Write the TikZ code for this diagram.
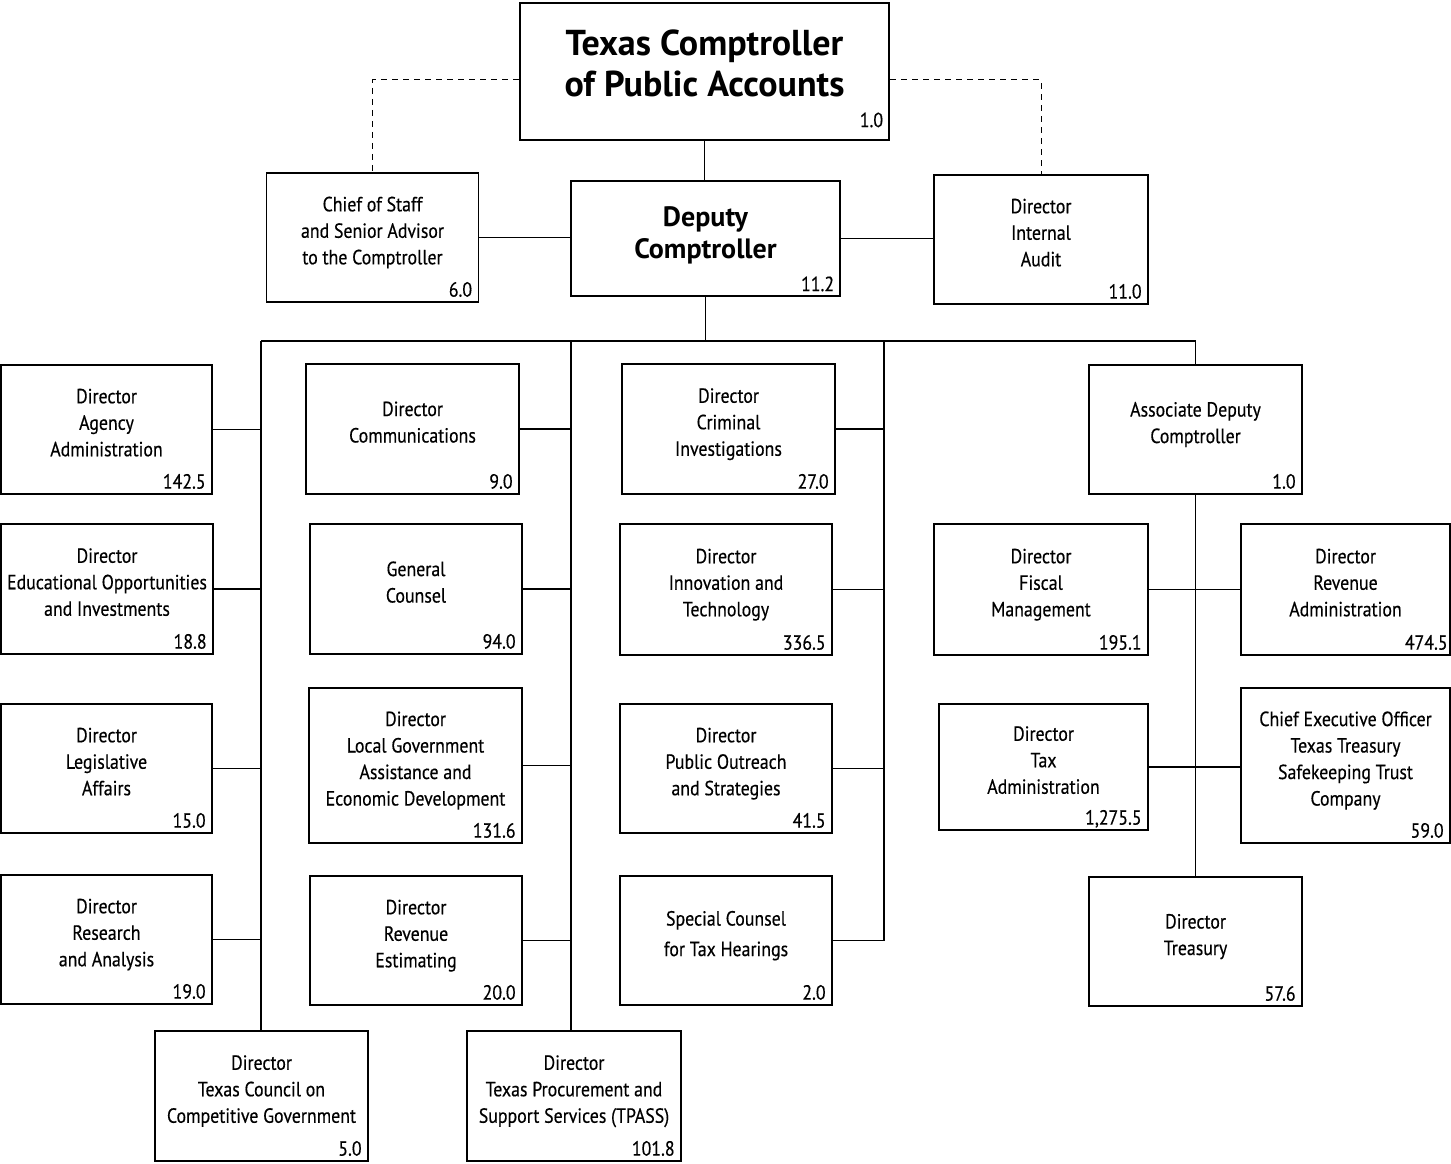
\documentclass[tikz,border=0pt]{standalone}
\usepackage{fontspec}
\setmainfont{PT Sans}[FakeStretch=0.87,FakeBold=0.4]
\newfontfamily\headfont{PT Sans}
\usetikzlibrary{positioning}

\begin{document}
\begin{tikzpicture}[x=1pt,y=-1pt,
  font=\fontsize{20.5}{26.5}\selectfont,
  box/.style={draw, line width=1.6pt, align=center, inner sep=0pt,
    minimum width=212pt, minimum height=129pt, text depth=14pt},
  tall/.style={minimum height=155pt},
  chief/.style={line width=2.6pt},
  num/.style={anchor=south east, inner xsep=7pt, inner ysep=6pt, text depth=0pt},
  link/.style={line width=1.6pt},
  aside/.style={line width=1pt, dash pattern=on 6pt off 5pt}]
\useasboundingbox (0,0) rectangle (1451,1164);
% top of the agency
\node [box, chief, minimum width=369pt, minimum height=137pt, text depth=16pt,
  font=\headfont\bfseries\fontsize{36}{41}\selectfont,
  label={[num, inner ysep=14pt]south east:1.0}] (top) at (704.5,71.5) {Texas Comptroller\\of Public Accounts};
\node [box, chief, minimum width=269pt, minimum height=115pt, text depth=11pt,
  font=\headfont\bfseries\fontsize{28}{32}\selectfont,
  label={[num]south east:11.2}] (deputy) at (705.5,238.5) {Deputy\\Comptroller};
\node [box, label={[num]south east:6.0}] (staff) at (372.5,237.5) {Chief of Staff\\and Senior Advisor\\to the Comptroller};
\node [box, minimum width=214pt, label={[num]south east:11.0}] (audit) at (1041,239.5) {Director\\Internal\\Audit};
% first column
\node [box, minimum width=211pt, label={[num]south east:142.5}] (agency) at (106.5,429.5) {Director\\Agency\\Administration};
\node [box, minimum height=130pt, label={[num]south east:18.8}] (educ) at (107,589) {Director\\Educational Opportunities\\and Investments};
\node [box, minimum width=211pt, label={[num]south east:15.0}] (legis) at (106.5,768.5) {Director\\Legislative\\Affairs};
\node [box, minimum width=211pt, label={[num]south east:19.0}] (research) at (106.5,939.5) {Director\\Research\\and Analysis};
\node [box, minimum width=213pt, minimum height=130pt, label={[num]south east:5.0}] (council) at (261.5,1096) {Director\\Texas Council on\\Competitive Government};
% second column
\node [box, minimum width=213pt, minimum height=130pt, label={[num]south east:9.0}] (comm) at (412.5,429) {Director\\Communications};
\node [box, minimum height=130pt, label={[num]south east:94.0}] (counsel) at (416,589) {General\\Counsel};
\node [box, tall, minimum width=213pt, label={[num]south east:131.6}] (localgov) at (415.5,765.5) {Director\\Local Government\\Assistance and\\Economic Development};
\node [box, label={[num]south east:20.0}] (revest) at (416,940.5) {Director\\Revenue\\Estimating};
\node [box, minimum width=214pt, minimum height=130pt, label={[num]south east:101.8}] (tpass) at (574,1096) {Director\\Texas Procurement and\\Support Services (TPASS)};
% third column
\node [box, minimum width=213pt, minimum height=130pt, label={[num]south east:27.0}] (criminal) at (728.5,429) {Director\\Criminal\\Investigations};
\node [box, minimum height=131pt, label={[num]south east:336.5}] (innov) at (726,589.5) {Director\\Innovation and\\Technology};
\node [box, label={[num]south east:41.5}] (outreach) at (726,768.5) {Director\\Public Outreach\\and Strategies};
\node [box, label={[num]south east:2.0}] (special) at (726,940.5) {Special Counsel\\[4pt]for Tax Hearings};
% fourth column
\node [box, minimum width=213pt, label={[num]south east:1.0}] (assoc) at (1195.5,429.5) {Associate Deputy\\Comptroller};
\node [box, minimum width=214pt, minimum height=131pt, label={[num]south east:195.1}] (fiscal) at (1041,589.5) {Director\\Fiscal\\Management};
\node [box, minimum width=209pt, minimum height=131pt, label={[num, inner xsep=3pt]south east:474.5}] (revadm) at (1345.5,589.5) {Director\\Revenue\\Administration};
\node [box, minimum width=209pt, minimum height=126pt, label={[num]south east:1,275.5}] (taxadm) at (1043.5,767) {Director\\Tax\\Administration};
\node [box, tall, minimum width=209pt, label={[num]south east:59.0}] (ceo) at (1345.5,765.5) {Chief Executive Officer\\Texas Treasury\\Safekeeping Trust\\Company};
\node [box, minimum width=213pt, label={[num]south east:57.6}] (treasury) at (1195.5,941.5) {Director\\Treasury};
% bus lines
\coordinate (busA) at (261,341);
\coordinate (busB) at (571,341);
\coordinate (busC) at (884,341);
\coordinate (busD) at (1195.5,341);
\draw [aside] ([yshift=-8.5pt]top.west) -| (staff.north);
\draw [aside] ([yshift=-8.5pt]top.east) -| (audit.north);
\draw [link] (top.south) -- (top.south |- deputy.north);
\draw [link] (staff.east) -- (staff.east -| deputy.west);
\draw [link] (deputy.east) -- (deputy.east -| audit.west);
\draw [link] (deputy.south) -- (deputy.south |- busA);
\draw [link] (busA) -- (busD) -- (assoc.north);
\draw [link] (busA) -- (busA |- council.north);
\draw [link] (busB) -- (busB |- tpass.north);
\draw [link] (busC) -- (busC |- special.east) -- (special.east);
\draw [link] (agency.east) -- (agency.east -| busA);
\draw [link] (educ.east) -- (educ.east -| busA);
\draw [link] (legis.east) -- (legis.east -| busA);
\draw [link] (research.east) -- (research.east -| busA);
\draw [link] (comm.east) -- (comm.east -| busB);
\draw [link] (counsel.east) -- (counsel.east -| busB);
\draw [link] (localgov.east) -- (localgov.east -| busB);
\draw [link] (revest.east) -- (revest.east -| busB);
\draw [link] (criminal.east) -- (criminal.east -| busC);
\draw [link] (innov.east) -- (innov.east -| busC);
\draw [link] (outreach.east) -- (outreach.east -| busC);
\draw [link] (assoc.south) -- (treasury.north);
\draw [link] (fiscal.east) -- (revadm.west);
\draw [link] (taxadm.east) -- (taxadm.east -| ceo.west);
\end{tikzpicture}
\end{document}
